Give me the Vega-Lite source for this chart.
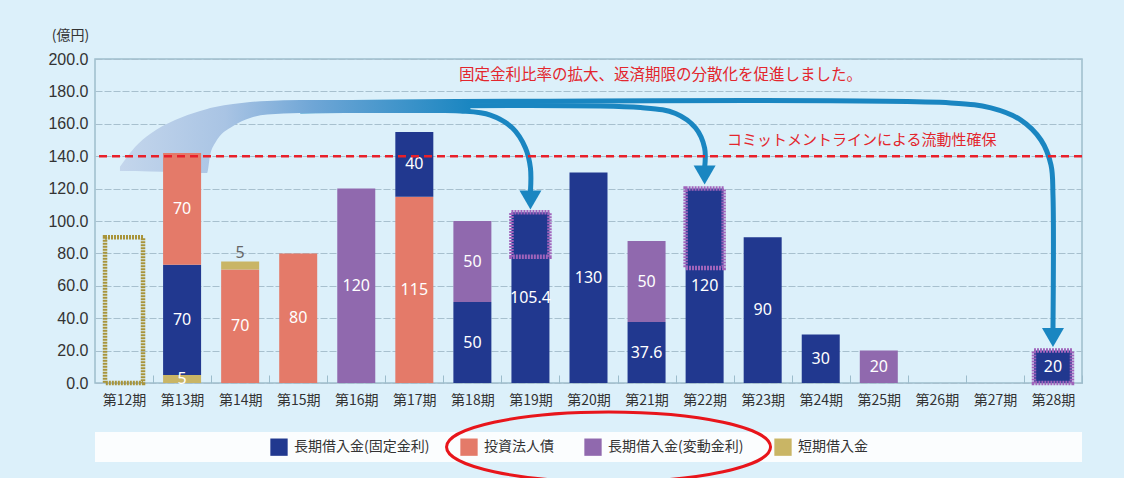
{
  "$schema": "https://vega.github.io/schema/vega-lite/v6.json",
  "width": 987,
  "height": 324,
  "autosize": {"type": "none"},
  "padding": {"left": 95, "top": 59, "right": 42, "bottom": 95},
  "background": "#dcf0fa",
  "config": {
    "view": {"stroke": "#9dbdcc", "strokeWidth": 1.5},
    "font": "Noto Sans CJK JP",
    "axis": {"labelOverlap": false},
    "axisY": {
      "labelOverlap": false,
      "labelFont": "Liberation Sans",
      "labelFontSize": 16,
      "labelColor": "#333333",
      "labelPadding": 7,
      "labelBound": false,
      "labelFlush": false,
      "ticks": false,
      "domain": false,
      "grid": true,
      "gridColor": "#a7c0ce",
      "gridDash": [7, 2],
      "gridWidth": 1,
      "format": ".1f"
    },
    "legend": {
      "orient": "none",
      "legendX": 175,
      "legendY": 379,
      "direction": "horizontal",
      "symbolType": "square",
      "symbolSize": 300,
      "symbolStrokeWidth": 0,
      "labelFontSize": 14,
      "labelColor": "#333333",
      "labelFont": "Noto Sans CJK JP",
      "labelOffset": 6,
      "columnPadding": 30
    }
  },
  "datasets": {
    "one": [{"note": "annotation"}],
    "debt": [
      {"period": 13, "type": "短期借入金", "value": 5, "seq": 1, "label": "5"},
      {"period": 13, "type": "長期借入金(固定金利)", "value": 68, "seq": 2, "label": "70"},
      {"period": 13, "type": "投資法人債", "value": 69, "seq": 3, "label": "70"},
      {"period": 14, "type": "投資法人債", "value": 70, "seq": 1, "label": "70"},
      {"period": 14, "type": "短期借入金", "value": 5, "seq": 2, "label": "5"},
      {"period": 15, "type": "投資法人債", "value": 80, "seq": 1, "label": "80"},
      {"period": 16, "type": "長期借入金(変動金利)", "value": 120, "seq": 1, "label": "120"},
      {"period": 17, "type": "投資法人債", "value": 115, "seq": 1, "label": "115"},
      {"period": 17, "type": "長期借入金(固定金利)", "value": 40, "seq": 2, "label": "40"},
      {"period": 18, "type": "長期借入金(固定金利)", "value": 50, "seq": 1, "label": "50"},
      {"period": 18, "type": "長期借入金(変動金利)", "value": 50, "seq": 2, "label": "50"},
      {"period": 19, "type": "長期借入金(固定金利)", "value": 105.4, "seq": 1, "label": "105.4"},
      {"period": 20, "type": "長期借入金(固定金利)", "value": 130, "seq": 1, "label": "130"},
      {"period": 21, "type": "長期借入金(固定金利)", "value": 37.6, "seq": 1, "label": "37.6"},
      {"period": 21, "type": "長期借入金(変動金利)", "value": 50, "seq": 2, "label": "50"},
      {"period": 22, "type": "長期借入金(固定金利)", "value": 120, "seq": 1, "label": "120"},
      {"period": 23, "type": "長期借入金(固定金利)", "value": 90, "seq": 1, "label": "90"},
      {"period": 24, "type": "長期借入金(固定金利)", "value": 30, "seq": 1, "label": "30"},
      {"period": 25, "type": "長期借入金(変動金利)", "value": 20, "seq": 1, "label": "20"},
      {"period": 28, "type": "長期借入金(固定金利)", "value": 20, "seq": 1, "label": "20"}
    ],
    "boxes": [
      {"period": 12, "lo": 0, "hi": 90, "kind": "短期借入金"},
      {"period": 19, "lo": 78, "hi": 105.4, "kind": "長期借入金(変動金利)"},
      {"period": 22, "lo": 71, "hi": 120, "kind": "長期借入金(変動金利)"},
      {"period": 28, "lo": 0, "hi": 20, "kind": "長期借入金(変動金利)"}
    ],
    "swoosh": [
      {"sx": 11.93, "stop": 133.5, "sbot": 130.9},
      {"sx": 12.19, "stop": 145.7, "sbot": 130.9},
      {"sx": 12.448, "stop": 153.7, "sbot": 130.6},
      {"sx": 12.879, "stop": 162.3, "sbot": 130.2},
      {"sx": 13.31, "stop": 167.9, "sbot": 129.6},
      {"sx": 13.431, "stop": 169.1, "sbot": 129.6},
      {"sx": 13.483, "stop": 169.8, "sbot": 140.7},
      {"sx": 13.569, "stop": 170.4, "sbot": 148.1},
      {"sx": 13.879, "stop": 172.2, "sbot": 158.6},
      {"sx": 14.172, "stop": 173.5, "sbot": 163.6},
      {"sx": 14.466, "stop": 174.1, "sbot": 165.7},
      {"sx": 15.034, "stop": 174.7, "sbot": 166.7},
      {"sx": 17.966, "stop": 174.7, "sbot": 166.7}
    ],
    "arrows": [
      {"line": "A", "k": 1, "ax": 15.034, "ay": 172.9},
      {"line": "A", "k": 2, "ax": 26.241, "ay": 172.9},
      {"line": "A", "k": 3, "ax": 26.931, "ay": 169.8},
      {"line": "A", "k": 4, "ax": 27.448, "ay": 162.3},
      {"line": "A", "k": 5, "ax": 27.793, "ay": 150.0},
      {"line": "A", "k": 6, "ax": 27.966, "ay": 134.6},
      {"line": "A", "k": 7, "ax": 28, "ay": 116.0},
      {"line": "A", "k": 8, "ax": 28, "ay": 32.7},
      {"line": "B", "k": 1, "ax": 15.034, "ay": 170.0},
      {"line": "B", "k": 2, "ax": 20.897, "ay": 170.0},
      {"line": "B", "k": 3, "ax": 21.5, "ay": 166.4},
      {"line": "B", "k": 4, "ax": 21.845, "ay": 157.4},
      {"line": "B", "k": 5, "ax": 22, "ay": 145.1},
      {"line": "B", "k": 6, "ax": 22, "ay": 132.7},
      {"line": "C", "k": 1, "ax": 15.034, "ay": 167.9},
      {"line": "C", "k": 2, "ax": 17.793, "ay": 167.9},
      {"line": "C", "k": 3, "ax": 18.31, "ay": 165.4},
      {"line": "C", "k": 4, "ax": 18.69, "ay": 157.4},
      {"line": "C", "k": 5, "ax": 18.914, "ay": 145.1},
      {"line": "C", "k": 6, "ax": 19, "ay": 132.7},
      {"line": "C", "k": 7, "ax": 19, "ay": 117.9}
    ],
    "heads": [
      {"hx": 19, "hy": 113.0},
      {"hx": 22, "hy": 128.4},
      {"hx": 28, "hy": 28.1}
    ]
  },
  "layer": [
    {
      "data": {"name": "debt"},
      "mark": {"type": "bar", "width": 38, "opacity": 0},
      "encoding": {
        "x": {
          "field": "period",
          "type": "quantitative",
          "scale": {"domain": [11.5, 28.5], "nice": false, "zero": false, "padding": 0},
          "axis": {
            "values": [12, 13, 14, 15, 16, 17, 18, 19, 20, 21, 22, 23, 24, 25, 26, 27, 28],
            "labelExpr": "'第' + datum.value + '期'",
            "title": null,
            "grid": false,
            "domain": false,
            "labelAngle": 0,
            "labelFontSize": 14,
            "labelColor": "#333333",
            "labelFont": "Noto Sans CJK JP",
            "labelFlush": false,
            "labelOverlap": false,
            "labelBound": false,
            "ticks": true,
            "tickSize": -8,
            "tickOffset": 29,
            "labelOffset": -29,
            "tickColor": "#9dbdcc",
            "labelPadding": 18
          }
        },
        "y": {
          "field": "value",
          "type": "quantitative",
          "stack": "zero",
          "scale": {"domain": [0, 200], "nice": false},
          "axis": {
            "values": [0, 20, 40, 60, 80, 100, 120, 140, 160, 180, 200],
            "title": "(億円)",
            "titleAngle": 0,
            "titleAlign": "center",
            "titleBaseline": "middle",
            "titleX": -25,
            "titleY": -24,
            "titleFontSize": 14,
            "titleFontWeight": "normal",
            "titleColor": "#333333",
            "titleFont": "Noto Sans CJK JP"
          }
        },
        "order": {"field": "seq", "type": "quantitative"}
      }
    },
    {
      "data": {"name": "one"},
      "mark": {"type": "rect", "fill": "#fbfdfe"},
      "encoding": {
        "x": {"datum": 11.5, "type": "quantitative"},
        "x2": {"datum": 28.5},
        "y": {"datum": -30.2, "type": "quantitative", "axis": {"values": [0, 20, 40, 60, 80, 100, 120, 140, 160, 180, 200]}},
        "y2": {"datum": -48.8}
      }
    },
    {
      "data": {"name": "arrows"},
      "mark": {"type": "line", "color": "#1a86c1", "strokeWidth": 5, "interpolate": "catmull-rom"},
      "encoding": {
        "x": {"field": "ax", "type": "quantitative"},
        "y": {"field": "ay", "type": "quantitative", "axis": {"values": [0, 20, 40, 60, 80, 100, 120, 140, 160, 180, 200]}},
        "detail": {"field": "line"},
        "order": {"field": "k", "type": "quantitative"}
      }
    },
    {
      "data": {"name": "swoosh"},
      "mark": {
        "type": "area",
        "interpolate": "monotone",
        "color": {
          "gradient": "linear",
          "x1": 0, "y1": 0, "x2": 1, "y2": 0,
          "stops": [
            {"offset": 0, "color": "#c4d6ec"},
            {"offset": 0.3, "color": "#a9c4e4"},
            {"offset": 0.55, "color": "#6fa6d6"},
            {"offset": 1, "color": "#1a86c1"}
          ]
        }
      },
      "encoding": {
        "x": {"field": "sx", "type": "quantitative"},
        "y": {"field": "stop", "type": "quantitative", "axis": {"values": [0, 20, 40, 60, 80, 100, 120, 140, 160, 180, 200]}},
        "y2": {"field": "sbot"}
      }
    },
    {
      "data": {"name": "debt"},
      "mark": {"type": "bar", "width": 38},
      "encoding": {
        "x": {"field": "period", "type": "quantitative"},
        "y": {"field": "value", "type": "quantitative", "stack": "zero", "axis": {"values": [0, 20, 40, 60, 80, 100, 120, 140, 160, 180, 200]}},
        "color": {
          "field": "type",
          "type": "nominal",
          "scale": {
            "domain": ["長期借入金(固定金利)", "投資法人債", "長期借入金(変動金利)", "短期借入金"],
            "range": ["#21388f", "#e47a69", "#9069ae", "#c9b565"]
          },
          "legend": {"title": null}
        },
        "order": {"field": "seq", "type": "quantitative"}
      }
    },
    {
      "data": {"name": "boxes"},
      "mark": {"type": "bar", "width": 38, "fillOpacity": 0, "strokeWidth": 4.5, "strokeDash": [2, 1]},
      "encoding": {
        "x": {"field": "period", "type": "quantitative"},
        "y": {"field": "lo", "type": "quantitative", "axis": {"values": [0, 20, 40, 60, 80, 100, 120, 140, 160, 180, 200]}},
        "y2": {"field": "hi"},
        "stroke": {"field": "kind", "type": "nominal", "scale": {"domain": ["短期借入金", "長期借入金(変動金利)"], "range": ["#a8943a", "#a064bb"]}, "legend": null}
      }
    },
    {
      "data": {"name": "debt"},
      "transform": [
        {"stack": "value", "groupby": ["period"], "sort": [{"field": "seq", "order": "ascending"}], "as": ["v0", "v1"]},
        {"calculate": "(datum.v0 + datum.v1) / 2", "as": "mid"},
        {"filter": "!(datum.period === 14 && datum.seq === 2)"}
      ],
      "mark": {"type": "text", "color": "white", "fontSize": 16, "font": "Noto Sans", "baseline": "middle"},
      "encoding": {
        "x": {"field": "period", "type": "quantitative"},
        "y": {"field": "mid", "type": "quantitative", "axis": {"values": [0, 20, 40, 60, 80, 100, 120, 140, 160, 180, 200]}},
        "text": {"field": "label"}
      }
    },
    {
      "data": {"name": "debt"},
      "transform": [
        {"stack": "value", "groupby": ["period"], "sort": [{"field": "seq", "order": "ascending"}], "as": ["v0", "v1"]},
        {"filter": "datum.period === 14 && datum.seq === 2"}
      ],
      "mark": {"type": "text", "color": "#666666", "fontSize": 16, "font": "Noto Sans", "baseline": "bottom", "dy": -1},
      "encoding": {
        "x": {"field": "period", "type": "quantitative"},
        "y": {"field": "v1", "type": "quantitative", "axis": {"values": [0, 20, 40, 60, 80, 100, 120, 140, 160, 180, 200]}},
        "text": {"field": "label"}
      }
    },
    {
      "data": {"name": "one"},
      "mark": {"type": "rule", "color": "#e8202a", "strokeWidth": 2.5, "strokeDash": [8, 5]},
      "encoding": {
        "y": {"datum": 140, "type": "quantitative", "axis": {"values": [0, 20, 40, 60, 80, 100, 120, 140, 160, 180, 200]}}
      }
    },
    {
      "data": {"name": "heads"},
      "mark": {"type": "point", "shape": "triangle-down", "filled": true, "color": "#1a86c1", "size": 484, "opacity": 1},
      "encoding": {
        "x": {"field": "hx", "type": "quantitative"},
        "y": {"field": "hy", "type": "quantitative", "axis": {"values": [0, 20, 40, 60, 80, 100, 120, 140, 160, 180, 200]}}
      }
    },
    {
      "data": {"name": "one"},
      "mark": {"type": "text", "text": "固定金利比率の拡大、返済期限の分散化を促進しました。", "color": "#e3262d", "fontSize": 15.5, "font": "Noto Sans CJK JP", "align": "center", "baseline": "middle"},
      "encoding": {
        "x": {"datum": 21.241, "type": "quantitative"},
        "y": {"datum": 190.1, "type": "quantitative", "axis": {"values": [0, 20, 40, 60, 80, 100, 120, 140, 160, 180, 200]}}
      }
    },
    {
      "data": {"name": "one"},
      "mark": {"type": "text", "text": "コミットメントラインによる流動性確保", "color": "#e3262d", "fontSize": 15, "font": "Noto Sans CJK JP", "align": "center", "baseline": "middle"},
      "encoding": {
        "x": {"datum": 24.707, "type": "quantitative"},
        "y": {"datum": 150.0, "type": "quantitative", "axis": {"values": [0, 20, 40, 60, 80, 100, 120, 140, 160, 180, 200]}}
      }
    },
    {
      "data": {"name": "one"},
      "mark": {"type": "point", "shape": "M -1 0 A 1 0.216 0 1 0 1 0 A 1 0.216 0 1 0 -1 0 Z", "filled": false, "stroke": "#e8151b", "strokeWidth": 3, "size": 104976, "opacity": 1},
      "encoding": {
        "x": {"datum": 20.345, "type": "quantitative"},
        "y": {"datum": -39.5, "type": "quantitative", "axis": {"values": [0, 20, 40, 60, 80, 100, 120, 140, 160, 180, 200]}}
      }
    }
  ]
}
